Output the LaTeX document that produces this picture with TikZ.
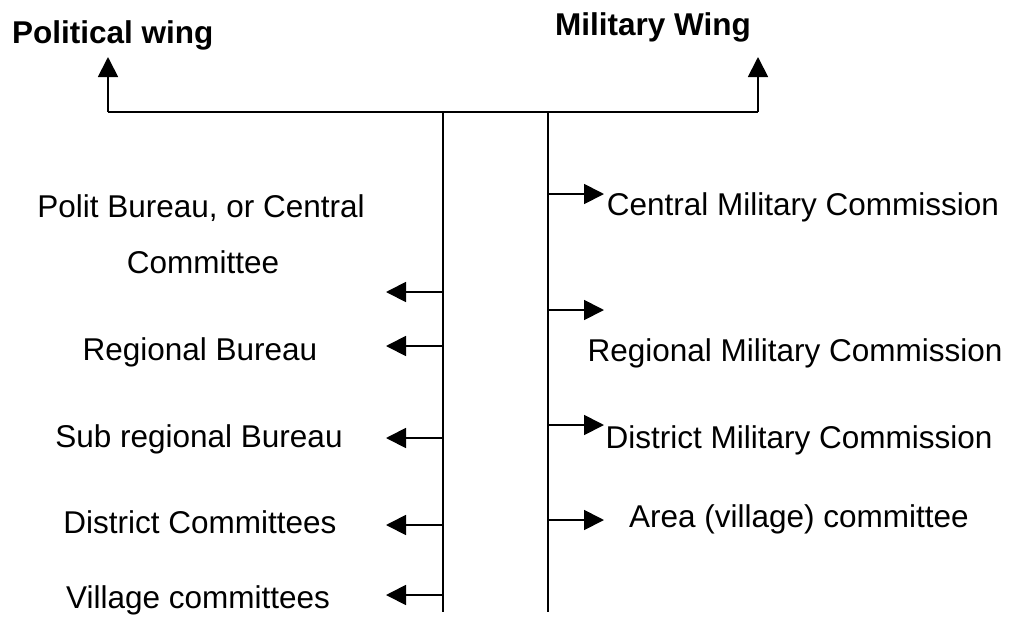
\documentclass[tikz,border=0pt]{standalone}
\usepackage{fontspec}
\setmainfont{Liberation Sans}
\usetikzlibrary{arrows.meta}
\begin{document}
\begin{tikzpicture}[x=1pt,y=-1pt,
  lbl/.style={inner sep=0pt,anchor=base,font=\fontsize{31.5}{38}\selectfont},
  ttl/.style={inner sep=0pt,anchor=base west,font=\fontsize{31.5}{38}\selectfont\bfseries},
  ln/.style={line width=1.8pt},
  arr/.style={line width=1.8pt,-{Triangle[length=20pt,width=20pt]}}]
\useasboundingbox[fill=white] (0,0) rectangle (1018,622);
% titles
\node[ttl] (pw) at (12,43) {Political wing};
\node[ttl] (mw) at (555,35) {Military Wing};
% skeleton
\coordinate (hl) at (108,112);
\coordinate (hr) at (758,112);
\coordinate (tl) at (108,57);
\coordinate (tr) at (758,57);
\coordinate (vlt) at (443,112);
\coordinate (vlb) at (443,612);
\coordinate (vrt) at (548,112);
\coordinate (vrb) at (548,612);
\draw[ln] (hl) -- (hr);
\draw[arr] (hl) -- (tl);
\draw[arr] (hr) -- (tr);
\draw[ln] (vlt) -- (vlb);
\draw[ln] (vrt) -- (vrb);
% left texts
\node[lbl] (p1) at (201,217) {Polit Bureau, or Central};
\node[lbl] (p1b) at (203,273) {Committee};
\node[lbl] (p2) at (200,360) {Regional Bureau};
\node[lbl] (p3) at (199,447) {Sub regional Bureau};
\node[lbl] (p4) at (200,533) {District Committees};
\node[lbl] (p5) at (198,608) {Village committees};
% right texts
\node[lbl] (m1) at (803,215) {Central Military Commission};
\node[lbl] (m2) at (795,361) {Regional Military Commission};
\node[lbl] (m3) at (799,448) {District Military Commission};
\node[lbl] (m4) at (799,527) {Area (village) committee};
% left arrows
\foreach \y/\n in {292/a,346/b,438/c,525/d,595/e}{
  \coordinate (ls\n) at (443,\y);
  \coordinate (le\n) at (386,\y);
  \draw[arr] (ls\n) -- (le\n);
}
% right arrows
\foreach \y/\n in {194/a,310/b,425/c,520/d}{
  \coordinate (rs\n) at (548,\y);
  \coordinate (re\n) at (604,\y);
  \draw[arr] (rs\n) -- (re\n);
}
\end{tikzpicture}
\end{document}
